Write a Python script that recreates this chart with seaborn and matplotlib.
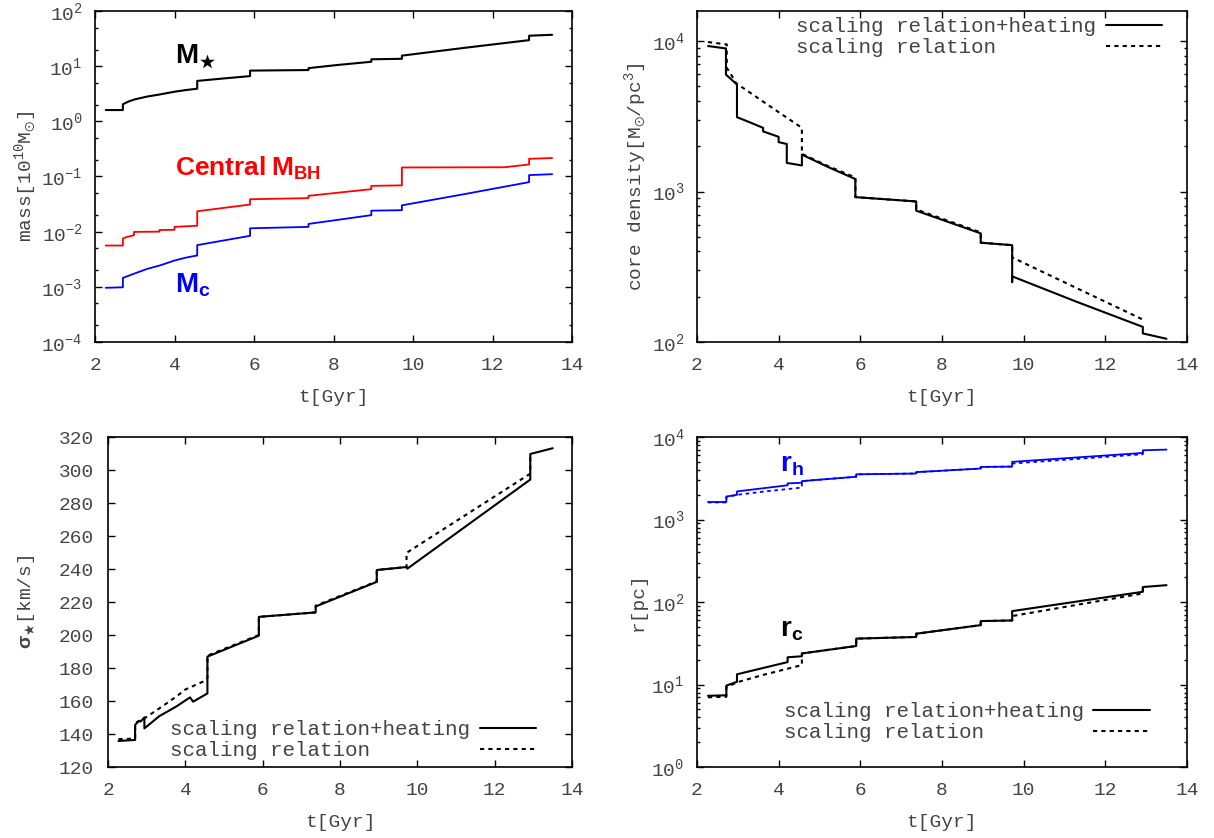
import matplotlib
matplotlib.use("Agg")
import matplotlib.pyplot as plt
import seaborn as sns
from matplotlib.ticker import LogLocator, LogFormatterMathtext, MultipleLocator, NullFormatter, NullLocator
from matplotlib.lines import Line2D

# ---------------- data ----------------
# panel 1: masses [1e10 Msun]
t_mstar = [2.27, 2.70, 2.70, 2.85, 3.00, 3.30, 3.64, 4.00, 4.30, 4.57, 4.57, 5.20, 5.90, 5.90,
           7.37, 7.37, 8.10, 8.95, 8.95, 9.72, 9.72, 11.30, 12.92, 12.92, 13.50]
mstar = [1.6, 1.6, 2.04, 2.3, 2.5, 2.8, 3.08, 3.44, 3.7, 3.9, 5.4, 5.95, 6.6, 8.3,
         8.5, 9.2, 10.5, 12.0, 13.3, 13.6, 15.5, 21.5, 29.6, 35.6, 37.0]

t_mbh = [2.27, 2.70, 2.70, 2.80, 2.98, 2.98, 3.62, 3.62, 4.00, 4.00, 4.57, 4.57, 5.90, 5.90,
         7.37, 7.37, 8.95, 8.95, 9.72, 9.72, 12.30, 12.92, 12.92, 13.50]
mbh = [0.0056, 0.0056, 0.0075, 0.0080, 0.0086, 0.0099, 0.0100, 0.0107, 0.0108, 0.0122, 0.0128,
       0.0234, 0.031, 0.0387, 0.0405, 0.0446, 0.0589, 0.0676, 0.069, 0.1455, 0.147, 0.165,
       0.209, 0.216]

t_mc = [2.27, 2.70, 2.70, 3.00, 3.30, 3.64, 4.00, 4.30, 4.57, 4.57, 5.90, 5.90, 7.37, 7.37,
        8.95, 8.95, 9.72, 9.72, 11.30, 12.92, 12.92, 13.50]
mc = [0.00096, 0.00098, 0.00145, 0.00175, 0.0021, 0.00245, 0.0030, 0.0034, 0.0037, 0.0057,
      0.0084, 0.0115, 0.0122, 0.0138, 0.0199, 0.024, 0.0245, 0.030, 0.048, 0.079, 0.106, 0.11]

# panel 2: core density [Msun/pc^3]
t_rho_heat = [2.27, 2.71, 2.71, 2.98, 2.98, 3.30, 3.62, 3.62, 4.00, 4.00, 4.20, 4.20, 4.57, 4.57,
              5.20, 5.88, 5.88, 7.37, 7.37, 8.95, 8.95, 9.72, 9.72, 9.72, 11.30, 12.92, 12.92, 13.50]
rho_heat = [9270, 8930, 5990, 5140, 3120, 2880, 2650, 2510, 2310, 2130, 2070, 1550, 1490, 1760,
            1460, 1210, 918, 859, 746, 527, 457, 440, 250, 273, 185, 126, 114, 105]
t_rho_scal = [2.27, 2.73, 2.73, 2.85, 2.96, 3.30, 3.62, 4.00, 4.30, 4.57, 4.57, 5.20, 5.88, 5.88,
              7.37, 7.37, 8.95, 8.95, 9.72, 9.72, 11.30, 12.92]
rho_scal = [9850, 9500, 6640, 5900, 5240, 4540, 3960, 3370, 2970, 2650, 1780, 1480, 1240, 918,
            859, 760, 535, 457, 440, 365, 228, 141]

# panel 3: velocity dispersion [km/s]
t_sig_heat = [2.27, 2.70, 2.70, 2.80, 2.84, 2.94, 2.94, 3.33, 3.76, 4.12, 4.20, 4.57, 4.57, 5.90,
              5.90, 7.37, 7.37, 8.95, 8.95, 9.72, 9.74, 12.92, 12.92, 13.50]
sig_heat = [135.8, 136.4, 145.5, 148.0, 147.5, 150.1, 143.4, 150.9, 156.6, 162.2, 159.6, 164.6,
            186.9, 199.6, 211.0, 213.7, 217.3, 232.2, 239.4, 241.2, 240.2, 294.2, 309.7, 313.2]
t_sig_scal = [2.27, 2.70, 2.70, 2.94, 3.33, 3.76, 4.00, 4.51, 4.57, 4.57, 5.90, 5.90, 7.37, 7.37,
              8.95, 8.95, 9.72, 9.72, 12.92, 12.92]
sig_scal = [136.9, 137.2, 146.7, 149.5, 155.6, 162.6, 167.0, 172.3, 174.0, 187.5, 200.0, 211.0,
            213.7, 217.8, 232.5, 239.4, 241.2, 249.8, 297.8, 309.7]

# panel 4: radii [pc]
t_rh_heat = [2.27, 2.72, 2.72, 2.98, 2.98, 4.22, 4.22, 4.57, 4.57, 5.90, 5.90, 7.37, 7.37, 8.95,
             8.95, 9.72, 9.72, 12.92, 12.92, 13.50]
rh_heat = [1630, 1630, 1900, 1990, 2190, 2600, 2740, 2790, 2920, 3300, 3530, 3610, 3750, 4150,
           4340, 4380, 5000, 6410, 6900, 7040]
t_rh_scal = [2.27, 2.72, 2.72, 2.98, 3.60, 4.57, 4.57, 5.90, 5.90, 7.37, 7.37, 8.95, 8.95, 9.72,
             9.72, 12.92, 12.92]
rh_scal = [1610, 1610, 1870, 1990, 2170, 2440, 2920, 3300, 3530, 3610, 3750, 4150, 4340, 4380,
           4770, 6180, 6900]
t_rc_heat = [2.27, 2.72, 2.72, 2.98, 2.98, 4.22, 4.22, 4.57, 4.57, 5.90, 5.90, 7.37, 7.37, 8.95,
             8.95, 9.72, 9.72, 12.92, 12.92, 13.50]
rc_heat = [7.3, 7.4, 9.7, 10.8, 13.3, 18.7, 21.4, 22.0, 23.8, 29.3, 36.0, 37.7, 41.3, 52.5,
           58.7, 59.8, 77.6, 133, 152, 160]
t_rc_scal = [2.27, 2.72, 2.72, 3.00, 3.60, 4.57, 4.57, 5.90, 5.90, 7.37, 7.37, 8.95, 8.95, 9.72,
             9.72, 12.92, 12.92]
rc_scal = [7.0, 7.1, 9.3, 10.7, 13.0, 17.2, 23.8, 29.3, 36.0, 37.7, 41.3, 52.5, 58.7, 59.8,
           67.6, 127, 152]

legend_labels = ["scaling relation+heating", "scaling relation"]
x_label = "t[Gyr]"

# ---------------- style ----------------
sns.set_style("ticks")
GRAY = "#444444"
plt.rcParams.update({
    "font.family": ["Liberation Mono", "DejaVu Sans"],
    "mathtext.fontset": "custom",
    "mathtext.rm": "Liberation Mono",
    "mathtext.tt": "Liberation Mono",
    "mathtext.it": "Liberation Mono:italic",
    "mathtext.bf": "Liberation Sans:bold",
    "mathtext.sf": "Liberation Sans",
    "mathtext.fallback": "stix",
    "axes.linewidth": 1.2,
    "axes.edgecolor": "black",
    "font.size": 14,
})

fig = plt.figure(figsize=(12.14, 8.38), dpi=100)
ax_tl = fig.add_axes([0.0783, 0.5919, 0.3929, 0.3950])
ax_tr = fig.add_axes([0.5741, 0.5919, 0.4036, 0.3950])
ax_bl = fig.add_axes([0.0890, 0.0847, 0.3822, 0.3938])
ax_br = fig.add_axes([0.5741, 0.0847, 0.4036, 0.3938])

SOLID_LW = 1.5
DOT = (0, (2.0, 2.0))


def line(ax, x, y, color="black", lw=SOLID_LW, ls="-"):
    sns.lineplot(x=x, y=y, ax=ax, color=color, linewidth=lw, linestyle=ls,
                 estimator=None, sort=False, legend=False)


def style_axis(ax, log, subs=None, ypad=9):
    ax.set_xlim(2, 14)
    ax.xaxis.set_major_locator(MultipleLocator(2))
    ax.xaxis.set_minor_locator(NullLocator())
    if log:
        ax.set_yscale("log")
        ax.yaxis.set_major_locator(LogLocator(base=10, numticks=20))
        ax.yaxis.set_major_formatter(LogFormatterMathtext())
        ax.yaxis.set_minor_locator(LogLocator(base=10, subs=subs, numticks=20))
        ax.yaxis.set_minor_formatter(NullFormatter())
    ax.tick_params(which="both", direction="in", top=True, right=True,
                   colors="black", labelcolor=GRAY, labelsize=14, width=1.0)
    ax.tick_params(which="major", length=5)
    ax.tick_params(which="minor", length=2.5)
    ax.tick_params(axis="x", pad=10.5)
    ax.tick_params(axis="y", pad=ypad)
    for s in ax.spines.values():
        s.set_visible(True)
        s.set_linewidth(1.2)
    ax.set_xlabel(x_label, color=GRAY, fontsize=14, labelpad=11)


def add_legend(ax, anchor):
    width = max(len(s) for s in legend_labels)
    labels = [s.ljust(width, "\u00a0") for s in legend_labels]
    handles = [Line2D([], [], color="black", lw=SOLID_LW),
               Line2D([], [], color="black", lw=SOLID_LW, ls=DOT)]
    ax.legend(handles, labels, loc="upper right", bbox_to_anchor=anchor, frameon=False,
              markerfirst=False, handlelength=2.7, handletextpad=0.45, labelspacing=0.1,
              borderpad=0, borderaxespad=0, fontsize=15, labelcolor=GRAY)


# ---- top-left: masses ----
line(ax_tl, t_mstar, mstar, "black", 1.5)
line(ax_tl, t_mbh, mbh, "#ff0000", 1.3)
line(ax_tl, t_mc, mc, "#0000ff", 1.3)
style_axis(ax_tl, True, subs=(2.0, 5.0))
ax_tl.set_ylim(1e-4, 1e2)
ax_tl.set_ylabel(r"mass[$\mathdefault{10^{10}M}_{\odot}$]", color=GRAY, fontsize=14, labelpad=2)
ax_tl.text(4.0, 11.4, r"$\mathbf{M}_{★}$", fontsize=20, color="black", va="baseline")
ax_tl.text(4.0, 0.102, r"$\mathbf{Central\ M_{BH}}$", fontsize=19, color="#ff0000", va="baseline")
ax_tl.text(4.0, 7.8e-4, r"$\mathbf{M_{c}}$", fontsize=20, color="#0000ff", va="baseline")

# ---- top-right: core density ----
line(ax_tr, t_rho_heat, rho_heat, "black")
line(ax_tr, t_rho_scal, rho_scal, "black", ls=DOT)
style_axis(ax_tr, True, subs=tuple(range(2, 10)))
ax_tr.set_ylim(100, 10 ** 4.2)
ax_tr.set_ylabel(r"core density[$\mathdefault{M}_{\odot}\mathdefault{/pc^{3}}$]", color=GRAY,
                 fontsize=14, labelpad=2)
add_legend(ax_tr, (0.949, 0.982))

# ---- bottom-left: sigma ----
line(ax_bl, t_sig_heat, sig_heat, "black")
line(ax_bl, t_sig_scal, sig_scal, "black", ls=DOT)
style_axis(ax_bl, False, ypad=10)
ax_bl.set_ylim(120, 320)
ax_bl.yaxis.set_major_locator(MultipleLocator(20))
ax_bl.yaxis.set_minor_locator(NullLocator())
ax_bl.set_ylabel(r"$\mathbf{\sigma}_{★}$[km/s]", color=GRAY, fontsize=14, labelpad=16)
add_legend(ax_bl, (0.922, 0.142))

# ---- bottom-right: radii ----
line(ax_br, t_rh_heat, rh_heat, "#0000ff", 1.3)
line(ax_br, t_rh_scal, rh_scal, "#0000ff", 1.3, ls=DOT)
line(ax_br, t_rc_heat, rc_heat, "black")
line(ax_br, t_rc_scal, rc_scal, "black", ls=DOT)
style_axis(ax_br, True, subs=tuple(range(2, 10)))
ax_br.set_ylim(1, 1e4)
ax_br.set_ylabel("r[pc]", color=GRAY, fontsize=14, labelpad=3)
ax_br.text(4.03, 3770, r"$\mathbf{r_{h}}$", fontsize=20, color="#0000ff", va="baseline")
ax_br.text(4.03, 37.7, r"$\mathbf{r_{c}}$", fontsize=20, color="black", va="baseline")
add_legend(ax_br, (0.924, 0.197))

fig.savefig("out.png", dpi=100)
